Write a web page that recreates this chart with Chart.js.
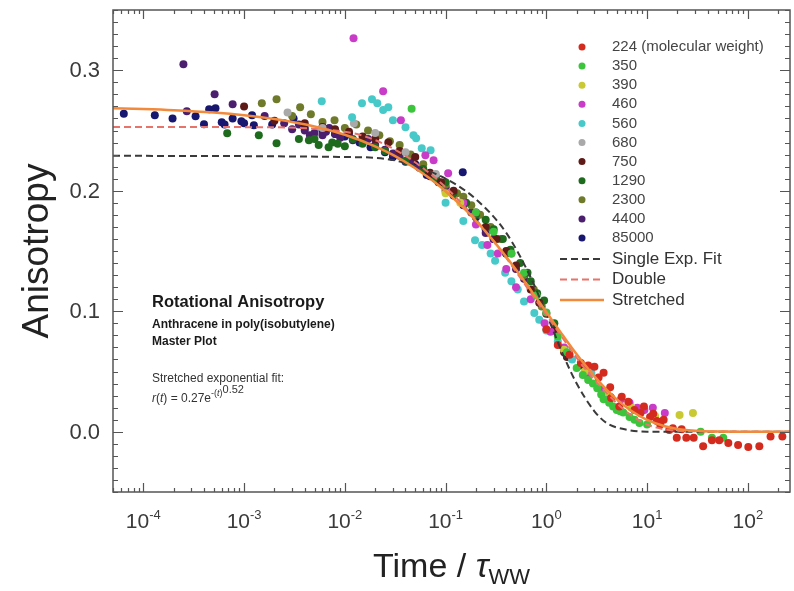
<!DOCTYPE html>
<html>
<head>
<meta charset="utf-8">
<title>Rotational Anisotropy</title>
<script src="https://cdn.jsdelivr.net/npm/chart.js@4.4.0/dist/chart.umd.min.js"></script>
<style>
  html, body { margin: 0; padding: 0; background: #fff; }
</style>
</head>
<body>
<canvas id="anisoChart" width="794" height="591"></canvas>
<script>
// host molecular weights, one scatter series each
let weights = ['224 (molecular weight)', '350', '390', '460', '560', '680', '750', '1290', '2300', '4400', '85000'];
let colors = ['#d42b1f', '#3cc43c', '#c9c933', '#c83cc8', '#48c9c9', '#a9a9a9', '#5e1a16', '#1e6b1e', '#6f7b2a', '#4b1f6e', '#17176f'];

// [time / tau_ww, anisotropy]
let d224 = [[1.0, 0.085], [1.3, 0.072], [1.7, 0.064], [2.2, 0.057], [2.6, 0.055], [3.0, 0.054], [3.3, 0.045],
  [3.7, 0.049], [4.3, 0.037], [4.4, 0.028], [5.3, 0.021], [5.6, 0.029], [6.5, 0.025], [7.5, 0.018],
  [8.6, 0.0156], [9.3, 0.021], [10.7, 0.0123], [11.5, 0.015], [12.5, 0.009], [13.5, 0.006], [14.6, 0.010],
  [16.6, 0.0015], [18, 0.003], [19.7, -0.005], [22, 0.002], [24.5, -0.005], [29, -0.005], [36, -0.012],
  [44, -0.007], [52, -0.007], [64, -0.0093], [80, -0.011], [101, -0.0126], [130, -0.012], [168, -0.004],
  [220, -0.004]];
let d350 = [[0.046, 0.268], [0.2, 0.182], [0.3, 0.166], [0.45, 0.148], [0.6, 0.132], [0.8, 0.113], [1.0, 0.099],
  [1.3, 0.079], [1.6, 0.066], [2.0, 0.053], [2.3, 0.047], [2.6, 0.043], [2.9, 0.04], [3.2, 0.036], [3.5, 0.031],
  [3.7, 0.027], [4.2, 0.024], [4.6, 0.021], [5.0, 0.018], [5.4, 0.017], [5.8, 0.016], [6.7, 0.0123],
  [7.5, 0.010], [8.4, 0.0073], [10, 0.006], [34, 0.0], [44, -0.005], [57, -0.005]];
let d390 = [[0.1, 0.198], [0.14, 0.19], [1.5, 0.068], [2.4, 0.05], [4, 0.033], [7, 0.02], [12, 0.013],
  [21, 0.014], [28.5, 0.0156]];
let d460 = [[0.0122, 0.3265], [0.024, 0.2826], [0.036, 0.2585], [0.063, 0.2295], [0.076, 0.2254], [0.106, 0.2146],
  [0.15, 0.19], [0.2, 0.172], [0.26, 0.155], [0.33, 0.148], [0.4, 0.135], [0.5, 0.12], [0.7, 0.11],
  [0.96, 0.09], [1.1, 0.083], [1.5, 0.07], [2.5, 0.047], [3.5, 0.035], [4.3, 0.029], [5.5, 0.027],
  [6.7, 0.024], [8, 0.02], [9.4, 0.018], [11.4, 0.02], [15, 0.0156]];
let d560 = [[0.0059, 0.2743], [0.0118, 0.261], [0.0148, 0.2726], [0.0186, 0.276], [0.021, 0.2726], [0.024, 0.267],
  [0.027, 0.2693], [0.030, 0.2585], [0.040, 0.2527], [0.048, 0.246], [0.051, 0.2436], [0.058, 0.2353],
  [0.071, 0.2337], [0.1, 0.19], [0.15, 0.175], [0.196, 0.159], [0.23, 0.155], [0.28, 0.148], [0.31, 0.142],
  [0.39, 0.132], [0.45, 0.125], [0.52, 0.118], [0.6, 0.108], [0.76, 0.0985], [0.85, 0.093], [1.0, 0.084],
  [1.3, 0.075], [1.8, 0.06], [2.8, 0.049]];
let d680 = [[0.0027, 0.265], [0.006, 0.252], [0.0123, 0.256], [0.02, 0.248], [0.04, 0.232], [0.08, 0.214]];
let d750 = [[0.001, 0.270], [0.002, 0.258], [0.004, 0.256], [0.006, 0.253], [0.008, 0.251], [0.011, 0.249],
  [0.015, 0.245], [0.02, 0.243], [0.027, 0.240], [0.035, 0.233], [0.05, 0.228], [0.07, 0.215], [0.09, 0.207],
  [0.12, 0.2], [0.15, 0.19], [0.2, 0.182], [0.25, 0.17], [0.32, 0.16], [0.4, 0.15], [0.5, 0.138], [0.7, 0.118],
  [0.85, 0.107], [1.0, 0.098], [1.2, 0.084], [1.5, 0.066], [1.6, 0.062], [2.2, 0.055]];
let d1290 = [[0.00068, 0.2478], [0.0014, 0.246], [0.0021, 0.2395], [0.0035, 0.243], [0.0044, 0.242], [0.005, 0.243],
  [0.0055, 0.238], [0.0069, 0.236], [0.0075, 0.24], [0.0085, 0.239], [0.01, 0.237], [0.012, 0.243],
  [0.015, 0.239], [0.02, 0.236], [0.025, 0.233], [0.04, 0.225], [0.06, 0.218], [0.08, 0.21], [0.1, 0.207],
  [0.12, 0.198], [0.16, 0.19], [0.2, 0.18], [0.25, 0.176], [0.3, 0.168], [0.37, 0.16], [0.44, 0.151],
  [0.55, 0.14], [0.65, 0.132], [0.7, 0.125], [0.81, 0.115], [0.95, 0.109], [1.2, 0.09]];
let d2300 = [[0.0015, 0.2726], [0.0021, 0.276], [0.003, 0.262], [0.0036, 0.2693], [0.0046, 0.2635], [0.006, 0.257],
  [0.0079, 0.2585], [0.01, 0.252], [0.013, 0.255], [0.017, 0.25], [0.022, 0.246], [0.028, 0.241], [0.035, 0.238],
  [0.045, 0.23], [0.06, 0.222], [0.08, 0.212], [0.1, 0.205], [0.13, 0.198], [0.15, 0.195], [0.18, 0.188],
  [0.22, 0.18], [0.28, 0.17], [0.35, 0.16], [0.45, 0.148], [0.6, 0.13], [0.75, 0.118], [0.9, 0.104]];
let d4400 = [[0.00025, 0.305], [0.00027, 0.266], [0.00051, 0.280], [0.00077, 0.2718], [0.0016, 0.262], [0.0025, 0.256],
  [0.003, 0.251], [0.0035, 0.255], [0.004, 0.25], [0.0045, 0.246], [0.005, 0.248], [0.006, 0.246],
  [0.0065, 0.249], [0.007, 0.252], [0.008, 0.247], [0.009, 0.244], [0.011, 0.247], [0.012, 0.242],
  [0.015, 0.24], [0.017, 0.243], [0.02, 0.238], [0.025, 0.234], [0.03, 0.231], [0.035, 0.229], [0.045, 0.224],
  [0.055, 0.219], [0.07, 0.212], [0.085, 0.207], [0.1, 0.2], [0.12, 0.197], [0.15, 0.188], [0.18, 0.182],
  [0.25, 0.165], [0.3, 0.16], [0.4, 0.148], [0.5, 0.135], [0.6, 0.127]];
let d85000 = [[0.000064, 0.264], [0.00013, 0.2627], [0.000195, 0.260], [0.00033, 0.2618], [0.0004, 0.2552],
  [0.00045, 0.2677], [0.00052, 0.2685], [0.0006, 0.2569], [0.00064, 0.255], [0.00077, 0.26], [0.00094, 0.2577],
  [0.001, 0.256], [0.0012, 0.2627], [0.00125, 0.2544], [0.0019, 0.255], [0.0031, 0.26], [0.004, 0.252],
  [0.006, 0.25], [0.008, 0.247], [0.01, 0.245], [0.014, 0.24], [0.018, 0.236], [0.025, 0.232], [0.03, 0.228],
  [0.04, 0.224], [0.05, 0.222], [0.065, 0.213], [0.08, 0.21], [0.1, 0.203], [0.12, 0.196], [0.148, 0.2154],
  [0.2, 0.178], [0.25, 0.168], [0.3, 0.16], [0.4, 0.148]];
let measured = [d224, d350, d390, d460, d560, d680, d750, d1290, d2300, d4400, d85000];

// fit curves
let singleFit = [[5e-5, 0.229], [0.01, 0.228], [0.03, 0.2255], [0.1, 0.21], [0.2, 0.193], [0.4, 0.165],
  [0.7, 0.128], [1, 0.098], [1.5, 0.062], [2, 0.04], [3, 0.017], [4, 0.007], [6, 0.002], [10, 0.0], [262, 0.0]];
let doubleFit = [[5e-5, 0.253], [0.001, 0.2528], [0.01, 0.249], [0.03, 0.235], [0.1, 0.203], [0.3, 0.158],
  [1, 0.097], [3, 0.043], [10, 0.006], [30, 0.0005], [262, 0.0]];
let stretchAmp = 0.27;
let stretchBeta = 0.52;
let fitTimes = [5e-5, 1e-4, 2e-4, 5e-4, 1e-3, 2e-3, 5e-3, 0.01, 0.02, 0.03, 0.05, 0.07, 0.1, 0.15, 0.2, 0.3,
  0.5, 0.7, 1, 1.5, 2, 3, 4, 5, 7, 10, 15, 20, 30, 50, 100, 262];
let fitLabels = ['Single Exp. Fit', 'Double', 'Stretched'];
let fitColors = ['#3a3a3a', '#e8736b', '#f28a3c'];

let yTicks = [0, 0.1, 0.2, 0.3];
let yTickLabels = ['0.0', '0.1', '0.2', '0.3'];
let xDecades = [-4, -3, -2, -1, 0, 1, 2];

const FONT = '"Liberation Sans", Arial, sans-serif';
const toXY = arr => arr.map(p => ({ x: p[0], y: p[1] }));

let datasets = [
  {
    data: fitTimes.map(t => ({ x: t, y: stretchAmp * Math.exp(-Math.pow(t, stretchBeta)) })),
    showLine: true, borderColor: fitColors[2], borderWidth: 2.5, pointRadius: 0,
    cubicInterpolationMode: 'monotone', order: 0
  },
  {
    data: toXY(doubleFit), showLine: true, borderColor: fitColors[1], borderWidth: 2,
    borderDash: [7, 4], pointRadius: 0, cubicInterpolationMode: 'monotone', order: 0
  },
  {
    data: toXY(singleFit), showLine: true, borderColor: fitColors[0], borderWidth: 2,
    borderDash: [7, 4], pointRadius: 0, cubicInterpolationMode: 'monotone', order: 0
  }
];
measured.forEach((d, i) => {
  datasets.push({
    data: toXY(d), backgroundColor: colors[i], borderColor: colors[i],
    pointRadius: 4, pointBorderWidth: 0, order: 1
  });
});

// draws a run of text pieces with their own font and baseline shift
function drawRuns(ctx, runs, x, y) {
  runs.forEach(r => {
    ctx.font = r.font;
    ctx.fillText(r.text, x, y + (r.dy || 0));
    x += ctx.measureText(r.text).width;
  });
  return x;
}
function runsWidth(ctx, runs) {
  let w = 0;
  runs.forEach(r => { ctx.font = r.font; w += ctx.measureText(r.text).width; });
  return w;
}

let decorations = {
  id: 'decorations',
  afterDraw(chart) {
    const { ctx, chartArea: a, scales: { x, y } } = chart;
    ctx.save();
    ctx.strokeStyle = '#555';
    ctx.lineWidth = 1.5;
    ctx.strokeRect(a.left, a.top, a.right - a.left, a.bottom - a.top);

    // ticks point inwards on all four sides
    ctx.lineWidth = 1.2;
    ctx.beginPath();
    for (let e = -5; e <= 2; e++) {
      for (let m = 1; m <= 9; m++) {
        const v = m * Math.pow(10, e);
        if (v < x.min || v > x.max) continue;
        const px = Math.round(x.getPixelForValue(v)) + 0.5;
        const len = m === 1 ? 9 : 4;
        ctx.moveTo(px, a.bottom); ctx.lineTo(px, a.bottom - len);
        ctx.moveTo(px, a.top); ctx.lineTo(px, a.top + len);
      }
    }
    for (let i = -5; i <= 35; i++) {
      const py = Math.round(y.getPixelForValue(i / 100)) + 0.5;
      const len = i % 10 === 0 ? 10 : 5;
      ctx.moveTo(a.left, py); ctx.lineTo(a.left + len, py);
      ctx.moveTo(a.right, py); ctx.lineTo(a.right - len, py);
    }
    ctx.stroke();

    // tick labels
    ctx.fillStyle = '#3a3a3a';
    ctx.textBaseline = 'middle';
    ctx.textAlign = 'right';
    ctx.font = '22px ' + FONT;
    yTicks.forEach((v, i) => ctx.fillText(yTickLabels[i], 100, y.getPixelForValue(v) + 1));

    ctx.textAlign = 'left';
    ctx.textBaseline = 'alphabetic';
    xDecades.forEach(e => {
      const runs = [
        { text: '10', font: '21px ' + FONT },
        { text: String(e), font: '13px ' + FONT, dy: -9 }
      ];
      const px = x.getPixelForValue(Math.pow(10, e));
      drawRuns(ctx, runs, px - runsWidth(ctx, runs) / 2, 528);
    });

    // axis titles
    ctx.fillStyle = '#222';
    const title = [
      { text: 'Time / ', font: '34px ' + FONT },
      { text: '\u03C4', font: 'italic 34px ' + FONT },
      { text: 'WW', font: '22px ' + FONT, dy: 7 }
    ];
    drawRuns(ctx, title, (a.left + a.right) / 2 - runsWidth(ctx, title) / 2, 577);

    ctx.save();
    ctx.translate(38, (a.top + a.bottom) / 2);
    ctx.rotate(-Math.PI / 2);
    ctx.textAlign = 'center';
    ctx.textBaseline = 'middle';
    ctx.font = '37px ' + FONT;
    ctx.fillText('Anisotropy', 0, 0);
    ctx.restore();

    // plot annotation
    ctx.textAlign = 'left';
    ctx.fillStyle = '#1a1a1a';
    ctx.font = 'bold 16.5px ' + FONT;
    ctx.fillText('Rotational Anisotropy', 152, 307);
    ctx.font = 'bold 12px ' + FONT;
    ctx.fillText('Anthracene in poly(isobutylene)', 152, 328);
    ctx.fillText('Master Plot', 152, 345);
    ctx.fillStyle = '#333';
    ctx.font = '12px ' + FONT;
    ctx.fillText('Stretched exponential fit:', 152, 382);
    drawRuns(ctx, [
      { text: 'r', font: 'italic 12px ' + FONT },
      { text: '(', font: '12px ' + FONT },
      { text: 't', font: 'italic 12px ' + FONT },
      { text: ') = 0.27e', font: '12px ' + FONT },
      { text: '-(', font: '9px ' + FONT, dy: -6 },
      { text: 't', font: 'italic 9px ' + FONT, dy: -6 },
      { text: ')', font: '9px ' + FONT, dy: -6 },
      { text: '0.52', font: '11px ' + FONT, dy: -9 }
    ], 152, 402);

    // legend
    ctx.textBaseline = 'middle';
    weights.forEach((w, i) => {
      const ly = 47 + i * 19.1;
      ctx.fillStyle = colors[i];
      ctx.beginPath();
      ctx.arc(582, ly, 3.5, 0, Math.PI * 2);
      ctx.fill();
      ctx.fillStyle = '#444';
      ctx.font = '15px ' + FONT;
      ctx.fillText(w, 612, ly);
    });
    fitLabels.forEach((lab, i) => {
      const ly = 259 + i * 20.5;
      ctx.strokeStyle = fitColors[i];
      ctx.lineWidth = i === 2 ? 2.5 : 2;
      ctx.setLineDash(i === 2 ? [] : [7, 4]);
      ctx.beginPath();
      ctx.moveTo(560, ly); ctx.lineTo(604, ly);
      ctx.stroke();
      ctx.setLineDash([]);
      ctx.fillStyle = '#333';
      ctx.font = '17px ' + FONT;
      ctx.fillText(lab, 612, ly);
    });
    ctx.restore();
  }
};

new Chart(document.getElementById('anisoChart'), {
  type: 'scatter',
  data: { datasets: datasets },
  options: {
    responsive: false,
    animation: false,
    events: [],
    layout: { padding: { left: 113, top: 10, right: 1, bottom: 99 } },
    plugins: { legend: { display: false }, tooltip: { enabled: false } },
    scales: {
      x: { type: 'logarithmic', min: 5e-5, max: 262, display: false },
      y: { min: -0.05, max: 0.35, display: false }
    }
  },
  plugins: [decorations]
});
</script>
</body>
</html>
